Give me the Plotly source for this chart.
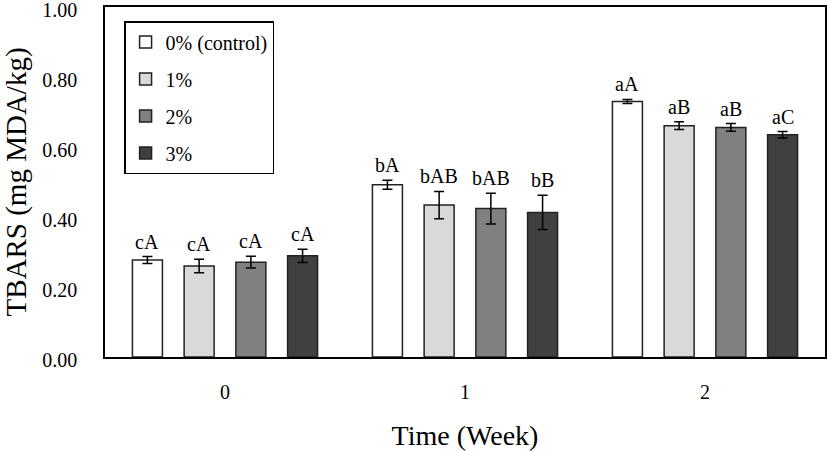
import plotly.graph_objects as go

weeks = ["0", "1", "2"]
series_names = ["0% (control)", "1%", "2%", "3%"]

control_vals = [0.277, 0.492, 0.730]
p1_vals = [0.260, 0.434, 0.661]
p2_vals = [0.271, 0.424, 0.656]
p3_vals = [0.289, 0.413, 0.635]

control_err = [0.010, 0.013, 0.006]
p1_err = [0.019, 0.039, 0.011]
p2_err = [0.017, 0.044, 0.011]
p3_err = [0.019, 0.049, 0.009]

control_lbl = ["cA", "bA", "aA"]
p1_lbl = ["cA", "bAB", "aB"]
p2_lbl = ["cA", "bAB", "aB"]
p3_lbl = ["cA", "bB", "aC"]

y_ticks = [0.0, 0.2, 0.4, 0.6, 0.8, 1.0]

fill_colors = ["#ffffff", "#d9d9d9", "#808080", "#404040"]

all_vals = [control_vals, p1_vals, p2_vals, p3_vals]
all_err = [control_err, p1_err, p2_err, p3_err]
all_lbl = [control_lbl, p1_lbl, p2_lbl, p3_lbl]

FONT = "Liberation Serif"
bargap = 0.138
bargroupgap = 0.42
x_idx = list(range(len(weeks)))

fig = go.Figure()
for j, name in enumerate(series_names):
    fig.add_trace(go.Bar(
        x=x_idx, y=all_vals[j], name=name, legendgroup=name,
        marker=dict(color=fill_colors[j], line=dict(color="#222222", width=1.5)),
        error_y=dict(type="data", array=all_err[j], color="black", thickness=1.5, width=5),
    ))

n = len(series_names)
slot = (1 - bargap) / n
annotations = []
for j in range(n):
    for i in x_idx:
        annotations.append(dict(
            x=i + (j - (n - 1) / 2) * slot, y=all_vals[j][i] + all_err[j][i],
            xref="x", yref="y", text=all_lbl[j][i], showarrow=False,
            yanchor="bottom", yshift=2, font=dict(family=FONT, size=20, color="black"),
        ))

fig.update_layout(
    template="none",
    width=827, height=451,
    margin=dict(l=105, r=2, t=7, b=94, autoexpand=False),
    paper_bgcolor="white", plot_bgcolor="white",
    barmode="group", bargap=bargap, bargroupgap=bargroupgap,
    font=dict(family=FONT, size=20, color="black"),
    showlegend=True,
    legend=dict(x=0.0265, y=0.96, xanchor="left", yanchor="top",
                bordercolor="black", borderwidth=1.5, bgcolor="white",
                font=dict(family=FONT, size=20, color="black"), tracegroupgap=8),
    annotations=annotations,
)
fig.update_xaxes(
    tickmode="array", tickvals=x_idx, ticktext=weeks, range=[-0.5, 2.5],
    showline=True, linecolor="black", linewidth=1.5, mirror=True,
    ticks="", showgrid=False, zeroline=False, ticklabelstandoff=16,
    automargin=False,
    title=dict(text="Time (Week)", font=dict(family=FONT, size=28), standoff=26),
    tickfont=dict(family=FONT, size=20),
)
fig.update_yaxes(
    range=[0, 1.0], tickmode="array", tickvals=y_ticks,
    ticktext=[f"{v:.2f}" for v in y_ticks],
    showline=True, linecolor="black", linewidth=1.5, mirror=True,
    ticks="", showgrid=False, zeroline=False, ticklabelstandoff=22,
    ticklabelshift=3,
    ticklabeloverflow="allow", automargin=False,
    title=dict(text="TBARS (mg MDA/kg)", font=dict(family=FONT, size=29), standoff=7),
    tickfont=dict(family=FONT, size=20),
)

fig.write_html("out.html", config={"displayModeBar": False},
               post_script="document.body.style.margin='0';")
